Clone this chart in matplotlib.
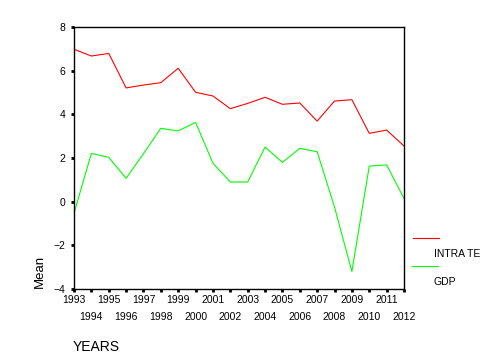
import matplotlib.pyplot as plt
from matplotlib.lines import Line2D

plt.rcParams['font.family'] = ['Liberation Sans', 'DejaVu Sans']

years = list(range(1993, 2013))
intrate = [6.98, 6.67, 6.79, 5.21, 5.34, 5.45, 6.11, 5.01, 4.84, 4.26,
           4.50, 4.78, 4.46, 4.52, 3.69, 4.61, 4.67, 3.13, 3.28, 2.55]
gdp = [-0.53, 2.21, 2.03, 1.07, 2.2, 3.36, 3.24, 3.63, 1.76, 0.9,
       0.9, 2.5, 1.8, 2.44, 2.29, -0.25, -3.2, 1.63, 1.68, 0.15]
yticks = [-4, -2, 0, 2, 4, 6, 8]

fig = plt.figure(figsize=(5, 3.61), dpi=100)
ax = fig.add_axes([74 / 500, 1 - 289 / 361, 330 / 500, 262 / 361])

ax.plot(years, intrate, color='#ff0000', lw=0.8)
ax.plot(years, gdp, color='#00ff00', lw=0.8)

ax.set_xlim(1993, 2012)
ax.set_ylim(-4, 8)
ax.set_yticks(yticks)
ax.set_xticks(years[::2])
ax.set_xticks(years[1::2], minor=True)
ax.set_xticklabels([str(y) for y in years[::2]])
ax.set_xticklabels([str(y) for y in years[1::2]], minor=True)

ax.tick_params(axis='both', which='both', direction='out', length=2, width=2,
               labelsize=7.5, color='black')
ax.tick_params(axis='x', which='major', pad=2)
ax.tick_params(axis='x', which='minor', pad=14.5)
ax.tick_params(axis='y', pad=4)
for s in ax.spines.values():
    s.set_linewidth(1.0)

fig.text(39.5 / 500, 1 - 271 / 361, 'Mean', rotation=90, ha='center',
         va='center', fontsize=9.5)
fig.text(73 / 500, 1 - 347 / 361, 'YEARS', ha='left', va='center',
         fontsize=10)

# legend
fig.add_artist(Line2D([413 / 500, 439 / 500], [1 - 238 / 361] * 2,
                      color='#ff0000', lw=0.8))
fig.add_artist(Line2D([412 / 500, 438 / 500], [1 - 266 / 361] * 2,
                      color='#00ff00', lw=0.8))
fig.text(434 / 500, 1 - 254 / 361, 'INTRA TE', ha='left', va='center',
         fontsize=7.5)
fig.text(434 / 500, 1 - 282 / 361, 'GDP', ha='left', va='center',
         fontsize=7.5)

fig.savefig('out.png', dpi=100)
